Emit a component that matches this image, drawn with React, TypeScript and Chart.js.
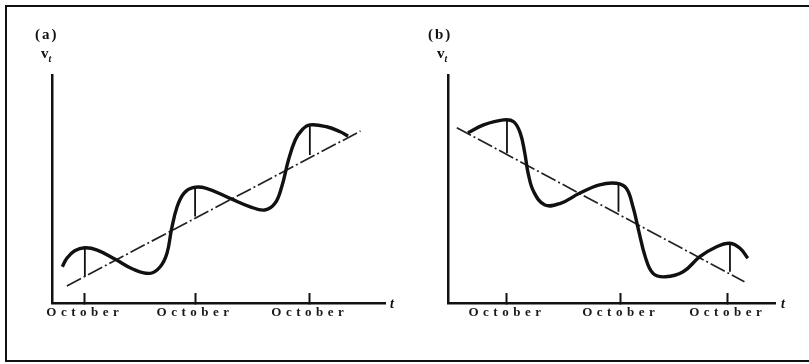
import React, { useEffect, useRef } from "react";
import { Chart, registerables } from "chart.js";

Chart.register(...registerables);

// Time axis in years (each October on a whole year), v_t in relative units 0-100

// ---- Panel (a): series with rising trend ----
const aTickYears = [0.99, 1.97, 2.99];
const aTickLabels = ["October", "October", "October"];
const aCurveT = [0.79, 0.83, 0.9, 0.99, 1.1, 1.26, 1.42, 1.57, 1.66, 1.72, 1.76, 1.81, 1.87, 1.95, 2.07, 2.28, 2.46, 2.59, 2.68, 2.74, 2.8, 2.86, 2.92, 2.99, 3.14, 3.26, 3.33];
const aCurveV = [15.9, 19.6, 22.9, 24.2, 23.2, 19.2, 14.8, 13.0, 15.9, 21.8, 32.2, 42.2, 48.1, 50.6, 50.3, 45.9, 42.2, 40.8, 43.7, 51.0, 62.7, 71.5, 75.9, 78.1, 77.3, 75.1, 73.2];
const aTrendT = [0.83, 3.44];
const aTrendV = [7.5, 75.4];
const aPeakT = [0.99, 1.97, 2.99];
const aPeakTopV = [24.2, 50.3, 78.1];
const aPeakBaseV = [11.5, 37.9, 64.9];

// ---- Panel (b): series with falling trend ----
const bTickYears = [1.0, 2.02, 2.98];
const bTickLabels = ["October", "October", "October"];
const bCurveT = [0.65, 0.79, 0.97, 1.06, 1.12, 1.16, 1.19, 1.24, 1.34, 1.48, 1.65, 1.83, 1.98, 2.07, 2.13, 2.18, 2.24, 2.31, 2.42, 2.58, 2.73, 2.88, 3.0, 3.09, 3.16];
const bCurveV = [74.7, 78.1, 80.3, 79.5, 74.4, 65.7, 56.9, 48.8, 43.0, 43.7, 48.1, 51.8, 52.5, 50.3, 42.2, 32.0, 20.3, 13.0, 11.5, 13.7, 20.3, 24.7, 26.2, 24.0, 19.6];
const bTrendT = [0.55, 3.13];
const bTrendV = [76.9, 9.3];
const bPeakT = [1.0, 2.0, 3.0];
const bPeakTopV = [80.3, 52.5, 26.2];
const bPeakBaseV = [65.7, 40.0, 13.7];

const INK = "#111";

const spacingPlugin = {
  id: "labelSpacing",
  beforeLayout(chart: any) {
    chart.ctx.letterSpacing = "4.5px";
  },
  beforeDraw(chart: any) {
    chart.ctx.letterSpacing = "4.5px";
  },
};

function buildDatasets(
  curveT: number[], curveV: number[],
  trendT: number[], trendV: number[],
  peakT: number[], peakTop: number[], peakBase: number[]
) {
  const curve = curveT.map((t, i) => ({ x: t, y: curveV[i] }));
  const trend = trendT.map((t, i) => ({ x: t, y: trendV[i] }));
  const peaks: any[] = [];
  peakT.forEach((t, i) => {
    peaks.push({ x: t, y: peakTop[i] }, { x: t, y: peakBase[i] }, { x: t, y: null });
  });
  return [
    { data: curve, borderColor: INK, borderWidth: 3.4, pointRadius: 0, tension: 0.4, fill: false },
    { data: trend, borderColor: "#222", borderWidth: 1.7, borderDash: [16, 3, 2, 3], pointRadius: 0, fill: false },
    { data: peaks, borderColor: INK, borderWidth: 1.8, pointRadius: 0, spanGaps: false, fill: false },
  ];
}

type PanelProps = {
  left: number;
  width: number;
  padLeft: number;
  padRight: number;
  xMin: number;
  xMax: number;
  ticks: number[];
  labels: string[];
  datasets: any[];
};

function Panel(p: PanelProps) {
  const ref = useRef<HTMLCanvasElement | null>(null);
  useEffect(() => {
    if (!ref.current) return;
    const chart = new Chart(ref.current, {
      type: "line",
      data: { datasets: p.datasets },
      plugins: [spacingPlugin],
      options: {
        animation: false,
        responsive: false,
        events: [],
        layout: { padding: { left: p.padLeft, right: p.padRight, top: 75, bottom: 0 } },
        plugins: { legend: { display: false }, tooltip: { enabled: false } },
        scales: {
          x: {
            type: "linear",
            min: p.xMin,
            max: p.xMax,
            afterBuildTicks: (scale: any) => {
              scale.ticks = p.ticks.map((v) => ({ value: v }));
            },
            afterFit: (scale: any) => {
              scale.height = 61;
            },
            grid: {
              display: true,
              drawOnChartArea: false,
              drawTicks: true,
              tickLength: -10,
              tickWidth: 2,
              tickColor: INK,
            },
            border: { display: true, color: INK, width: 2.5 },
            ticks: {
              autoSkip: false,
              maxRotation: 0,
              padding: 12,
              color: "#1a1a1a",
              font: { family: "'Liberation Serif', serif", size: 13, weight: "bold" },
              callback: (_v: any, i: number) => p.labels[i],
            },
          },
          y: {
            type: "linear",
            min: 0,
            max: 100,
            afterFit: (scale: any) => {
              scale.width = 0;
            },
            grid: { display: false, drawTicks: false },
            border: { display: true, color: INK, width: 2.5 },
            ticks: { display: false },
          },
        },
      } as any,
    });
    return () => chart.destroy();
  }, []);
  return (
    <canvas
      ref={ref}
      width={p.width}
      height={364}
      style={{ position: "absolute", left: p.left, top: 0, width: p.width, height: 364 }}
    />
  );
}

const txt: React.CSSProperties = {
  position: "absolute",
  fontFamily: "'Liberation Serif', serif",
  color: INK,
  lineHeight: 1,
  whiteSpace: "nowrap",
};

export default function App() {
  const aSets = buildDatasets(aCurveT, aCurveV, aTrendT, aTrendV, aPeakT, aPeakTopV, aPeakBaseV);
  const bSets = buildDatasets(bCurveT, bCurveV, bTrendT, bTrendV, bPeakT, bPeakTopV, bPeakBaseV);
  return (
    <div style={{ position: "fixed", left: 0, top: 0, width: 809, height: 364, overflow: "hidden", background: "#fff" }}>
      <div
        style={{
          position: "absolute",
          left: 5,
          top: 5,
          width: 900,
          height: 357,
          boxSizing: "border-box",
          border: "2px solid #111",
        }}
      />
      <Panel left={0} width={404} padLeft={52} padRight={19} xMin={0.698} xMax={3.658} ticks={aTickYears} labels={aTickLabels} datasets={aSets} />
      <Panel left={404} width={405} padLeft={44} padRight={34} xMin={0.471} xMax={3.404} ticks={bTickYears} labels={bTickLabels} datasets={bSets} />

      <div style={{ ...txt, left: 35, top: 27, fontSize: 15, fontWeight: "bold", letterSpacing: 2 }}>(a)</div>
      <div style={{ ...txt, left: 41, top: 46, fontSize: 15, fontWeight: "bold" }}>
        v<sub style={{ fontSize: 10, fontStyle: "italic", verticalAlign: "-4px" }}>t</sub>
      </div>
      <div style={{ ...txt, left: 390, top: 297, fontSize: 14, fontStyle: "italic", fontWeight: "bold" }}>t</div>

      <div style={{ ...txt, left: 428, top: 27, fontSize: 15, fontWeight: "bold", letterSpacing: 2 }}>(b)</div>
      <div style={{ ...txt, left: 437, top: 46, fontSize: 15, fontWeight: "bold" }}>
        v<sub style={{ fontSize: 10, fontStyle: "italic", verticalAlign: "-4px" }}>t</sub>
      </div>
      <div style={{ ...txt, left: 781, top: 297, fontSize: 14, fontStyle: "italic", fontWeight: "bold" }}>t</div>
    </div>
  );
}
